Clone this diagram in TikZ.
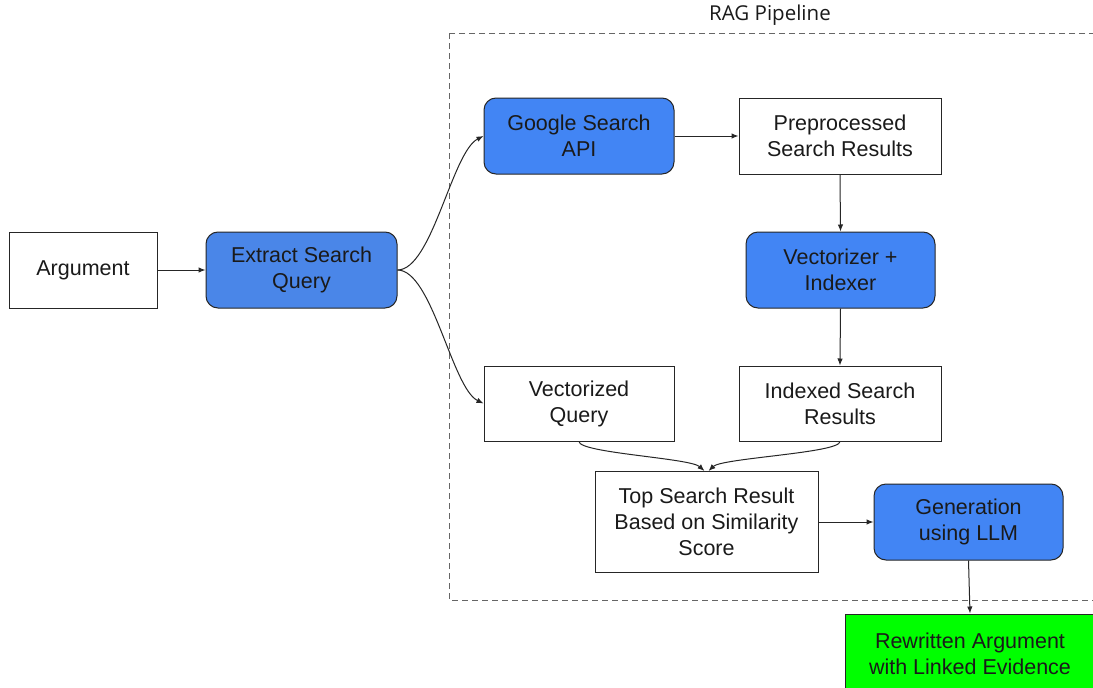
\documentclass[tikz,border=0pt]{standalone}
\usepackage{fontspec}
\setmainfont{Liberation Sans}
\newfontfamily\labelfont{Open Sans}
\usetikzlibrary{arrows.meta}
\definecolor{gblueA}{HTML}{4A86E8}
\definecolor{gblueB}{HTML}{4285F4}
\definecolor{ggreen}{HTML}{00FF00}
\definecolor{dashgray}{HTML}{666666}
\definecolor{txt}{HTML}{1A1A1A}
\begin{document}
\begin{tikzpicture}[x=1pt,y=-1pt,
  box/.style={draw=black!85, line width=1pt, fill=white, align=center, inner sep=0pt,
    text=txt, font=\fontsize{21.5}{26}\selectfont},
  rbox/.style={box, rounded corners=12pt, fill=gblueB},
  arr/.style={-{Latex[length=7pt,width=5.5pt]}, line width=1pt, draw=black!85}]
\useasboundingbox (0,0) rectangle (1093,688);
\clip (0,0) rectangle (1093,688);
\fill[white] (0,0) rectangle (1093,688);
% pipeline frame
\draw[dashgray, line width=0.8pt, dash pattern=on 6pt off 4pt] (449,33) rectangle (1110,600);
\node[font=\labelfont\fontsize{20.5}{24}\selectfont, text=txt] (lbl) at (770,15) {RAG Pipeline};
% nodes
\node[box, minimum width=148pt, minimum height=76pt] (arg) at (83,270) {Argument};
\node[rbox, fill=gblueA, minimum width=191pt, minimum height=76pt] (ext) at (301.5,270) {Extract Search\\Query};
\node[rbox, minimum width=190pt, minimum height=76pt] (gsa) at (579,136) {Google Search\\API};
\node[box, minimum width=202pt, minimum height=76pt] (pre) at (840,136) {Preprocessed\\Search Results};
\node[rbox, minimum width=189pt, minimum height=76pt] (vec) at (840.5,270) {Vectorizer +\\Indexer};
\node[box, minimum width=190pt, minimum height=75pt] (vq) at (579,403.5) {Vectorized\\Query};
\node[box, minimum width=202pt, minimum height=75pt] (isr) at (840,403.5) {Indexed Search\\Results};
\node[box, minimum width=223pt, minimum height=101pt] (top) at (706.5,522) {Top Search Result\\Based on Similarity\\Score};
\node[rbox, minimum width=189pt, minimum height=76pt] (gen) at (968.5,522) {Generation\\using LLM};
\node[box, fill=ggreen, minimum width=250pt, minimum height=80pt] (out) at (970,654) {Rewritten Argument\\with Linked Evidence};
% connectors
\draw[arr] (arg.east) -- (ext.west);
\draw[arr] (ext.east) .. controls (432,270) and (452,152) .. (gsa.west);
\draw[arr] (ext.east) .. controls (432,270) and (452,388) .. (vq.west);
\draw[arr] (gsa.east) -- (pre.west);
\draw[arr] (pre.south) -- (vec.north);
\draw[arr] (vec.south) -- (isr.north);
\draw[arr] (vq.south) .. controls (579,453) and (690,458) .. ([xshift=-2pt]top.north);
\draw[arr] (isr.south) .. controls (840,453) and (722,458) .. ([xshift=2pt]top.north);
\draw[arr] (top.east) -- (gen.west);
\draw[arr] (gen.south) -- (out.north);
\end{tikzpicture}
\end{document}
